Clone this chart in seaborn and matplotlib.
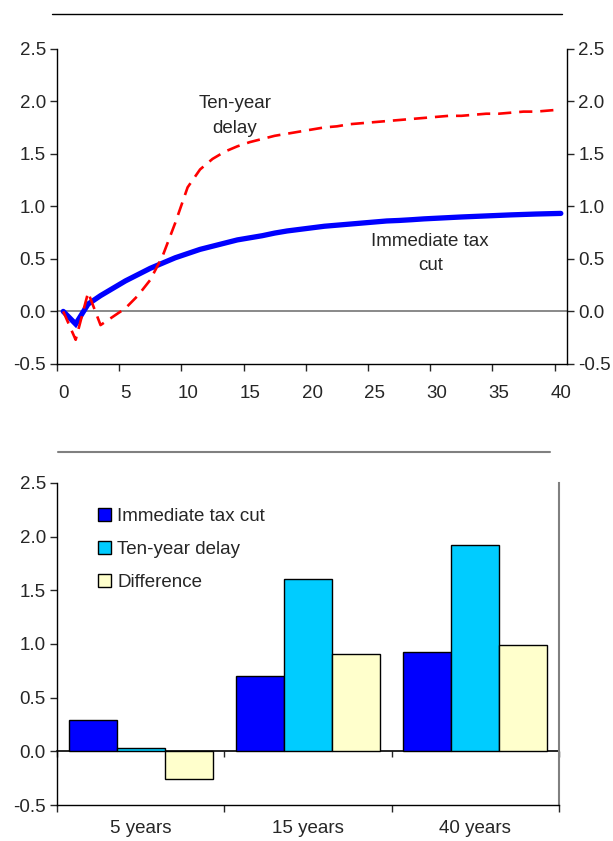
import pandas as pd
import matplotlib
matplotlib.use("Agg")
import matplotlib.pyplot as plt
from matplotlib.lines import Line2D
import seaborn as sns

# Top panel: path of the effect over 40 years
years = list(range(41))
immediate_path = [0.00, -0.12, 0.07, 0.15, 0.22, 0.29, 0.35, 0.41, 0.46, 0.51,
                  0.55, 0.59, 0.62, 0.65, 0.68, 0.70, 0.72, 0.745, 0.765, 0.78,
                  0.795, 0.81, 0.82, 0.83, 0.84, 0.85, 0.86, 0.865, 0.872, 0.88,
                  0.886, 0.892, 0.898, 0.903, 0.908, 0.913, 0.918, 0.922, 0.926, 0.929,
                  0.932]
delay_path = [0.00, -0.27, 0.18, -0.13, -0.05, 0.03, 0.15, 0.30, 0.53, 0.84,
              1.18, 1.35, 1.45, 1.52, 1.57, 1.61, 1.64, 1.67, 1.69, 1.71,
              1.73, 1.75, 1.76, 1.78, 1.79, 1.80, 1.81, 1.82, 1.83, 1.84,
              1.85, 1.86, 1.86, 1.87, 1.88, 1.88, 1.89, 1.90, 1.90, 1.91,
              1.92]
year_ticks = [0, 5, 10, 15, 20, 25, 30, 35, 40]

# Bottom panel: snapshot at three horizons
periods = ["5 years", "15 years", "40 years"]
immediate_bars = [0.29, 0.70, 0.93]
delay_bars = [0.03, 1.61, 1.92]
difference_bars = [-0.26, 0.91, 0.99]
series_names = ["Immediate tax cut", "Ten-year delay", "Difference"]
bar_colors = ["#0000FF", "#00CCFF", "#FFFFCC"]

y_ticks = [-0.5, 0.0, 0.5, 1.0, 1.5, 2.0, 2.5]
FS = 13.5

sns.set_style("ticks")
plt.rcParams["font.family"] = ["Liberation Sans", "DejaVu Sans"]
plt.rcParams["font.size"] = FS
plt.rcParams["axes.unicode_minus"] = False

fig = plt.figure(figsize=(6.13, 8.41), dpi=100)
ax1 = fig.add_axes([0.093, 0.5672, 0.832, 0.3751])
ax2 = fig.add_axes([0.093, 0.0428, 0.819, 0.3829])

# separator rules above each panel
fig.add_artist(Line2D([0.0848, 0.917], [0.9834, 0.9834], transform=fig.transFigure,
                      color="black", lw=1))
fig.add_artist(Line2D([0.0946, 0.897], [0.4625, 0.4625], transform=fig.transFigure,
                      color="#808080", lw=1.5))

# ---- top line chart
ax1.axhline(0, color="#808080", lw=1.3, zorder=1)
sns.lineplot(x=years, y=immediate_path, ax=ax1, color="#0000FF", lw=3.8,
             solid_capstyle="round", solid_joinstyle="miter", zorder=3)
sns.lineplot(x=years, y=delay_path, ax=ax1, color="#FF0000", lw=1.9, zorder=4)
ax1.lines[-1].set_dashes([5, 3])

ax1.set_xlim(-0.5, 40.5)
ax1.set_ylim(-0.5, 2.5)
ax1.set_yticks(y_ticks)
ax1.set_yticklabels([f"{v:.1f}" for v in y_ticks])
ax1.tick_params(axis="y", left=True, right=True, labelleft=True, labelright=True,
                direction="out", length=5, width=1, pad=3, labelsize=FS)
ax1.set_xticks([y - 0.5 for y in year_ticks])
ax1.set_xticklabels([])
ax1.set_xticks(year_ticks, minor=True)
ax1.set_xticklabels([str(y) for y in year_ticks], minor=True)
ax1.tick_params(axis="x", which="major", bottom=True, direction="out", length=5, width=1)
ax1.tick_params(axis="x", which="minor", bottom=True, length=0, pad=15, labelsize=FS)
ax1.spines["top"].set_visible(False)
for s in ["left", "right", "bottom"]:
    ax1.spines[s].set_color("black")
    ax1.spines[s].set_linewidth(1)
ax1.set_xlabel("")
ax1.set_ylabel("")

ax1.text(13.8, 1.86, "Ten-year\ndelay", ha="center", va="center",
         multialignment="center", linespacing=1.6, fontsize=FS)
ax1.text(29.5, 0.55, "Immediate tax\ncut", ha="center", va="center",
         multialignment="center", linespacing=1.6, fontsize=FS)

# ---- bottom bar chart
df = pd.DataFrame({
    "period": periods * 3,
    "series": [n for n in series_names for _ in periods],
    "value": immediate_bars + delay_bars + difference_bars,
})
sns.barplot(data=df, x="period", y="value", hue="series", hue_order=series_names,
            palette=bar_colors, saturation=1, width=0.86, edgecolor="black",
            linewidth=1, ax=ax2, zorder=3)

ax2.set_xlim(-0.5, 2.5)
ax2.set_ylim(-0.5, 2.5)
ax2.set_yticks(y_ticks)
ax2.set_yticklabels([f"{v:.1f}" for v in y_ticks])
ax2.tick_params(axis="y", left=True, right=False, direction="out", length=5,
                width=1, pad=3, labelsize=FS)
ax2.set_xticks([-0.5, 0.5, 1.5, 2.5])
ax2.set_xticklabels([])
ax2.set_xticks([0, 1, 2], minor=True)
ax2.set_xticklabels(periods, minor=True)
ax2.tick_params(axis="x", which="major", bottom=True, direction="out", length=5, width=1)
ax2.tick_params(axis="x", which="minor", bottom=True, length=0, pad=11, labelsize=FS)
ax2.spines["top"].set_visible(False)
ax2.spines["right"].set_color("#808080")
ax2.spines["right"].set_linewidth(1.5)
for s in ["left", "bottom"]:
    ax2.spines[s].set_color("black")
    ax2.spines[s].set_linewidth(1)
ax2.set_xlabel("")
ax2.set_ylabel("")

# category axis crossing at zero
zero_axis = ax2.secondary_xaxis(0.5 / 3.0)
zero_axis.set_xticks([-0.5, 0.5, 1.5, 2.5])
zero_axis.set_xticklabels([])
zero_axis.tick_params(axis="x", length=4, width=1, direction="out")
zero_axis.spines["bottom"].set_color("black")
zero_axis.spines["bottom"].set_linewidth(1.2)

handles, labels = ax2.get_legend_handles_labels()
ax2.legend(handles, labels, loc="upper left", bbox_to_anchor=(0.066, 0.945),
           frameon=False, handlelength=0.7, handleheight=0.7, handletextpad=0.35,
           labelspacing=0.85, fontsize=FS, borderaxespad=0)

fig.savefig("out.png", dpi=100)
